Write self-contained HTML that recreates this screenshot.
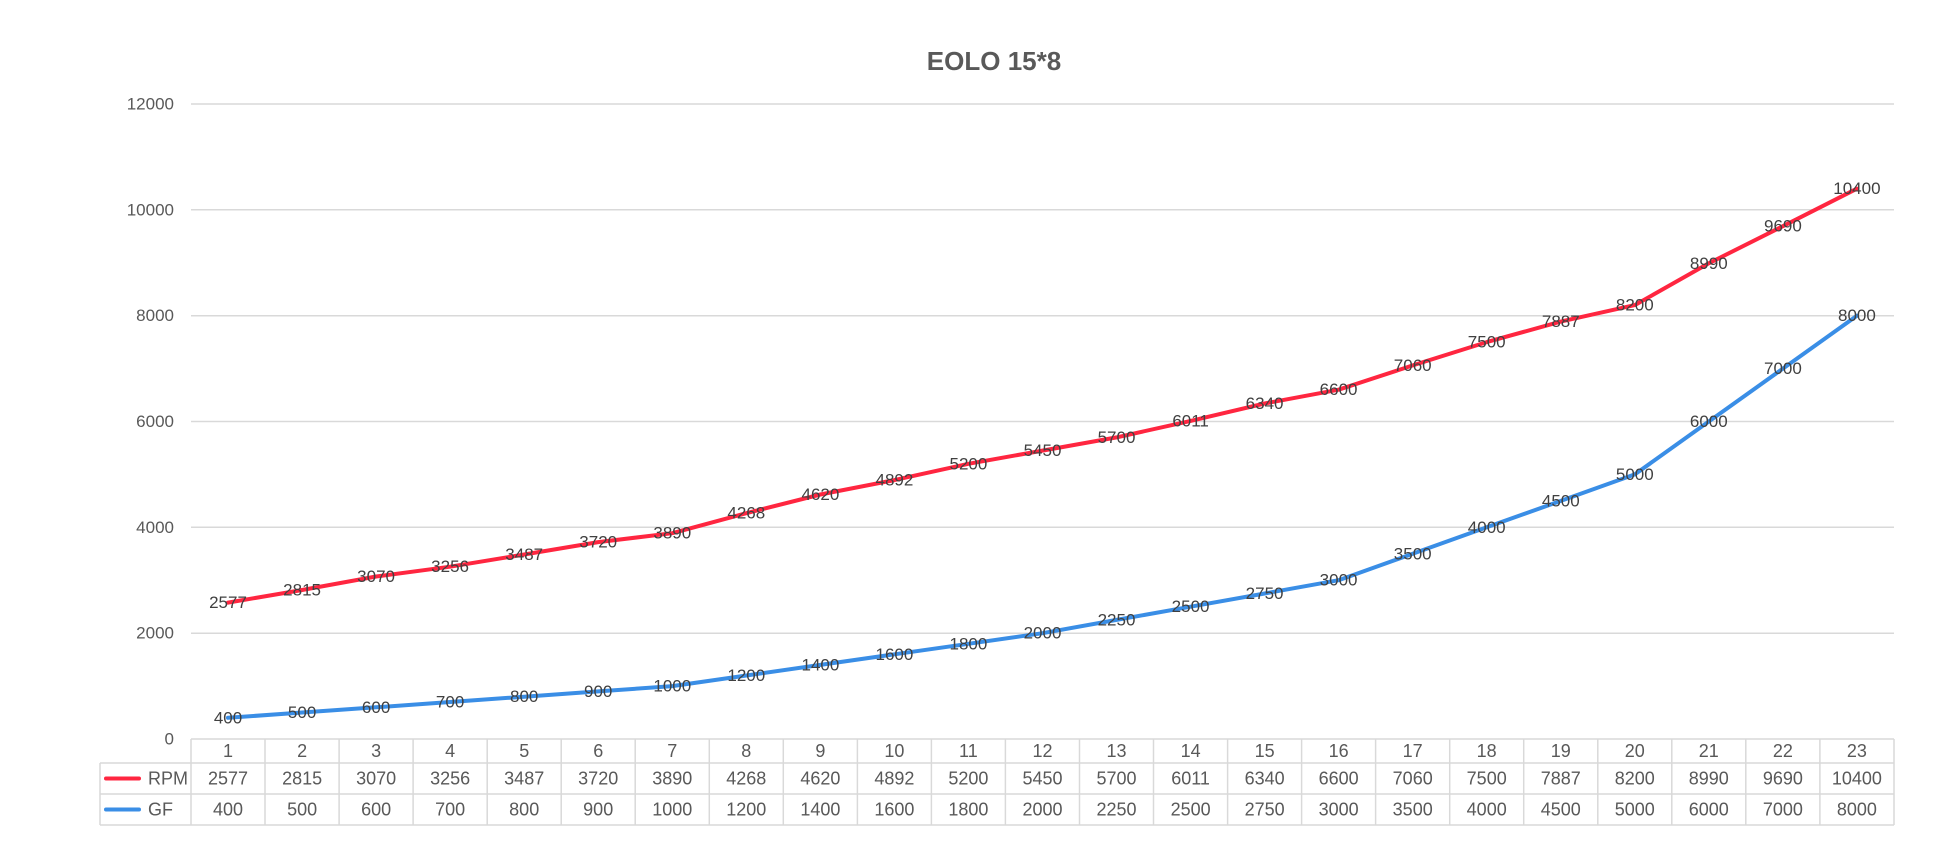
<!DOCTYPE html>
<html><head><meta charset="utf-8"><style>
html,body{margin:0;padding:0;background:#fff;}
svg{display:block;font-family:"Liberation Sans",sans-serif;}
</style></head><body>
<svg width="1946" height="865" viewBox="0 0 1946 865" xmlns="http://www.w3.org/2000/svg">
<text x="994" y="70" text-anchor="middle" font-size="26" font-weight="bold" fill="#595959">EOLO 15*8</text>
<g stroke="#d9d9d9" stroke-width="1.5">
<line x1="191" y1="104" x2="1894" y2="104"/>
<line x1="191" y1="209.8" x2="1894" y2="209.8"/>
<line x1="191" y1="315.7" x2="1894" y2="315.7"/>
<line x1="191" y1="421.5" x2="1894" y2="421.5"/>
<line x1="191" y1="527.3" x2="1894" y2="527.3"/>
<line x1="191" y1="633.2" x2="1894" y2="633.2"/>
</g>
<g font-size="17" fill="#595959" text-anchor="end" dominant-baseline="central">
<text x="174" y="104">12000</text><text x="174" y="209.8">10000</text><text x="174" y="315.7">8000</text>
<text x="174" y="421.5">6000</text><text x="174" y="527.3">4000</text><text x="174" y="633.2">2000</text><text x="174" y="739">0</text>
</g>
<polyline fill="none" stroke="#ff2640" stroke-width="4" stroke-linejoin="round" stroke-linecap="round" points="228,602.6 302.1,590 376.1,576.5 450.1,566.7 524.2,554.5 598.2,542.1 672.3,533.2 746.3,513.2 820.4,494.5 894.4,480.1 968.4,463.8 1042.5,450.6 1116.5,437.4 1190.6,420.9 1264.6,403.5 1338.6,389.7 1412.7,365.4 1486.7,342.1 1560.8,321.6 1634.8,305.1 1708.8,263.3 1782.9,226.2 1856.9,188.7"/>
<polyline fill="none" stroke="#3a8ee6" stroke-width="4" stroke-linejoin="round" stroke-linecap="round" points="228,717.8 302.1,712.5 376.1,707.3 450.1,702 524.2,696.7 598.2,691.4 672.3,686.1 746.3,675.5 820.4,664.9 894.4,654.3 968.4,643.8 1042.5,633.2 1116.5,619.9 1190.6,606.7 1264.6,593.5 1338.6,580.2 1412.7,553.8 1486.7,527.3 1560.8,500.9 1634.8,474.4 1708.8,421.5 1782.9,368.6 1856.9,315.7"/>
<g font-size="17" fill="#404040" text-anchor="middle" dominant-baseline="central">
<text x="228" y="602.6">2577</text><text x="302.1" y="590">2815</text><text x="376.1" y="576.5">3070</text><text x="450.1" y="566.7">3256</text><text x="524.2" y="554.5">3487</text><text x="598.2" y="542.1">3720</text><text x="672.3" y="533.2">3890</text><text x="746.3" y="513.2">4268</text><text x="820.4" y="494.5">4620</text><text x="894.4" y="480.1">4892</text><text x="968.4" y="463.8">5200</text><text x="1042.5" y="450.6">5450</text><text x="1116.5" y="437.4">5700</text><text x="1190.6" y="420.9">6011</text><text x="1264.6" y="403.5">6340</text><text x="1338.6" y="389.7">6600</text><text x="1412.7" y="365.4">7060</text><text x="1486.7" y="342.1">7500</text><text x="1560.8" y="321.6">7887</text><text x="1634.8" y="305.1">8200</text><text x="1708.8" y="263.3">8990</text><text x="1782.9" y="226.2">9690</text><text x="1856.9" y="188.7">10400</text>
<text x="228" y="717.8">400</text><text x="302.1" y="712.5">500</text><text x="376.1" y="707.3">600</text><text x="450.1" y="702">700</text><text x="524.2" y="696.7">800</text><text x="598.2" y="691.4">900</text><text x="672.3" y="686.1">1000</text><text x="746.3" y="675.5">1200</text><text x="820.4" y="664.9">1400</text><text x="894.4" y="654.3">1600</text><text x="968.4" y="643.8">1800</text><text x="1042.5" y="633.2">2000</text><text x="1116.5" y="619.9">2250</text><text x="1190.6" y="606.7">2500</text><text x="1264.6" y="593.5">2750</text><text x="1338.6" y="580.2">3000</text><text x="1412.7" y="553.8">3500</text><text x="1486.7" y="527.3">4000</text><text x="1560.8" y="500.9">4500</text><text x="1634.8" y="474.4">5000</text><text x="1708.8" y="421.5">6000</text><text x="1782.9" y="368.6">7000</text><text x="1856.9" y="315.7">8000</text>
</g>
<!-- table -->
<g stroke="#d9d9d9" stroke-width="1.5" fill="none">
<line x1="191" y1="739" x2="1894" y2="739"/>
<line x1="100" y1="763" x2="1894" y2="763"/>
<line x1="100" y1="794" x2="1894" y2="794"/>
<line x1="100" y1="825" x2="1894" y2="825"/>
<line x1="100" y1="763" x2="100" y2="825"/>
<line x1="191" y1="739" x2="191" y2="825"/><line x1="265" y1="739" x2="265" y2="825"/><line x1="339.1" y1="739" x2="339.1" y2="825"/><line x1="413.1" y1="739" x2="413.1" y2="825"/><line x1="487.2" y1="739" x2="487.2" y2="825"/><line x1="561.2" y1="739" x2="561.2" y2="825"/><line x1="635.2" y1="739" x2="635.2" y2="825"/><line x1="709.3" y1="739" x2="709.3" y2="825"/><line x1="783.3" y1="739" x2="783.3" y2="825"/><line x1="857.4" y1="739" x2="857.4" y2="825"/><line x1="931.4" y1="739" x2="931.4" y2="825"/><line x1="1005.4" y1="739" x2="1005.4" y2="825"/><line x1="1079.5" y1="739" x2="1079.5" y2="825"/><line x1="1153.5" y1="739" x2="1153.5" y2="825"/><line x1="1227.6" y1="739" x2="1227.6" y2="825"/><line x1="1301.6" y1="739" x2="1301.6" y2="825"/><line x1="1375.6" y1="739" x2="1375.6" y2="825"/><line x1="1449.7" y1="739" x2="1449.7" y2="825"/><line x1="1523.7" y1="739" x2="1523.7" y2="825"/><line x1="1597.8" y1="739" x2="1597.8" y2="825"/><line x1="1671.8" y1="739" x2="1671.8" y2="825"/><line x1="1745.8" y1="739" x2="1745.8" y2="825"/><line x1="1819.9" y1="739" x2="1819.9" y2="825"/><line x1="1894" y1="739" x2="1894" y2="825"/>
</g>
<line x1="106" y1="778.5" x2="139" y2="778.5" stroke="#ff2640" stroke-width="4" stroke-linecap="round"/>
<line x1="106" y1="809.5" x2="139" y2="809.5" stroke="#3a8ee6" stroke-width="4" stroke-linecap="round"/>
<g font-size="18" fill="#595959" dominant-baseline="central">
<text x="148" y="778.5">RPM</text><text x="148" y="809.5">GF</text>
</g>
<g font-size="18" fill="#595959" text-anchor="middle" dominant-baseline="central">
<text x="228" y="751">1</text><text x="302.1" y="751">2</text><text x="376.1" y="751">3</text><text x="450.1" y="751">4</text><text x="524.2" y="751">5</text><text x="598.2" y="751">6</text><text x="672.3" y="751">7</text><text x="746.3" y="751">8</text><text x="820.4" y="751">9</text><text x="894.4" y="751">10</text><text x="968.4" y="751">11</text><text x="1042.5" y="751">12</text><text x="1116.5" y="751">13</text><text x="1190.6" y="751">14</text><text x="1264.6" y="751">15</text><text x="1338.6" y="751">16</text><text x="1412.7" y="751">17</text><text x="1486.7" y="751">18</text><text x="1560.8" y="751">19</text><text x="1634.8" y="751">20</text><text x="1708.8" y="751">21</text><text x="1782.9" y="751">22</text><text x="1856.9" y="751">23</text>
<text x="228" y="778.5">2577</text><text x="302.1" y="778.5">2815</text><text x="376.1" y="778.5">3070</text><text x="450.1" y="778.5">3256</text><text x="524.2" y="778.5">3487</text><text x="598.2" y="778.5">3720</text><text x="672.3" y="778.5">3890</text><text x="746.3" y="778.5">4268</text><text x="820.4" y="778.5">4620</text><text x="894.4" y="778.5">4892</text><text x="968.4" y="778.5">5200</text><text x="1042.5" y="778.5">5450</text><text x="1116.5" y="778.5">5700</text><text x="1190.6" y="778.5">6011</text><text x="1264.6" y="778.5">6340</text><text x="1338.6" y="778.5">6600</text><text x="1412.7" y="778.5">7060</text><text x="1486.7" y="778.5">7500</text><text x="1560.8" y="778.5">7887</text><text x="1634.8" y="778.5">8200</text><text x="1708.8" y="778.5">8990</text><text x="1782.9" y="778.5">9690</text><text x="1856.9" y="778.5">10400</text>
<text x="228" y="809.5">400</text><text x="302.1" y="809.5">500</text><text x="376.1" y="809.5">600</text><text x="450.1" y="809.5">700</text><text x="524.2" y="809.5">800</text><text x="598.2" y="809.5">900</text><text x="672.3" y="809.5">1000</text><text x="746.3" y="809.5">1200</text><text x="820.4" y="809.5">1400</text><text x="894.4" y="809.5">1600</text><text x="968.4" y="809.5">1800</text><text x="1042.5" y="809.5">2000</text><text x="1116.5" y="809.5">2250</text><text x="1190.6" y="809.5">2500</text><text x="1264.6" y="809.5">2750</text><text x="1338.6" y="809.5">3000</text><text x="1412.7" y="809.5">3500</text><text x="1486.7" y="809.5">4000</text><text x="1560.8" y="809.5">4500</text><text x="1634.8" y="809.5">5000</text><text x="1708.8" y="809.5">6000</text><text x="1782.9" y="809.5">7000</text><text x="1856.9" y="809.5">8000</text>
</g>
</svg>
</body></html>
